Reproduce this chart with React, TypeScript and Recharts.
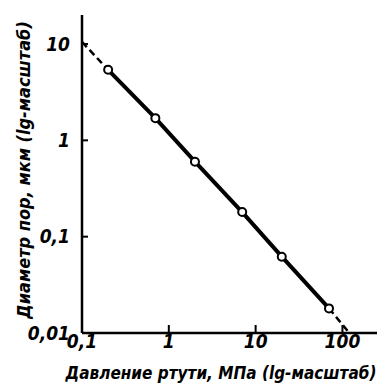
import { LineChart, XAxis, YAxis, Line, Label } from "recharts";

document.body.style.margin = "0";

// давление ртути, МПа  /  диаметр пор, мкм
const pressure = [0.2, 0.7, 2, 7, 20, 70];
const diameter = [5.4, 1.7, 0.6, 0.18, 0.062, 0.018];

// dashed extrapolation at both ends
const extraLowX = [0.1, 0.2];
const extraLowY = [10.5, 5.4];
const extraHighX = [70, 120];
const extraHighY = [0.018, 0.01];

const xTicks = [0.1, 1, 10, 100];
const yTicks = [0.01, 0.1, 1, 10];

const xTitle = "Давление ртути, МПа (lg-масштаб)";
const yTitle = "Диаметр пор, мкм (lg-масштаб)";

const FONT = '"DejaVu Sans Condensed", "DejaVu Sans", sans-serif';

const zip = (xs: number[], ys: number[]) => xs.map((x, i) => ({ x, y: ys[i] }));

const mainData = zip(pressure, diameter);
const lowData = zip(extraLowX, extraLowY);
const highData = zip(extraHighX, extraHighY);

const fmt = (v: number) => String(v).replace(".", ",");

function XTitle(props: any) {
  const vb = props.viewBox;
  return (
    <text
      x={vb.x + 139}
      y={vb.y + 46}
      textAnchor="middle"
      fontFamily={FONT}
      fontStyle="italic"
      fontWeight={600}
      fontSize={17}
      fill="#000"
    >
      {xTitle}
    </text>
  );
}

function YTitle(props: any) {
  const vb = props.viewBox;
  const cx = 30;
  const cy = vb.y + vb.height / 2 - 4;
  return (
    <text
      x={cx}
      y={cy}
      transform={`rotate(-90 ${cx} ${cy})`}
      textAnchor="middle"
      fontFamily={FONT}
      fontStyle="italic"
      fontWeight={600}
      fontSize={18}
      fill="#000"
    >
      {yTitle}
    </text>
  );
}

const tickStyle = { fontSize: 19, fill: "#000", fontFamily: FONT, fontStyle: "italic", fontWeight: 600 };

export default function App() {
  return (
    <LineChart width={390} height={389} margin={{ top: 15, right: 13, left: 0, bottom: 0 }}>
      <XAxis
        type="number"
        dataKey="x"
        scale="log"
        domain={[0.1, 250]}
        ticks={xTicks}
        allowDataOverflow
        tickFormatter={fmt}
        height={56}
        axisLine={{ stroke: "#000", strokeWidth: 2.5 }}
        tickLine={{ stroke: "#000", strokeWidth: 2 }}
        tickSize={-8}
        tickMargin={10}
        tick={tickStyle}
      >
        <Label content={XTitle} />
      </XAxis>
      <YAxis
        type="number"
        dataKey="y"
        scale="log"
        domain={[0.01, 20]}
        ticks={yTicks}
        allowDataOverflow
        tickFormatter={fmt}
        width={82}
        axisLine={{ stroke: "#000", strokeWidth: 2.5 }}
        tickLine={{ stroke: "#000", strokeWidth: 2 }}
        tickSize={-6}
        tickMargin={18}
        tick={tickStyle}
      >
        <Label content={YTitle} />
      </YAxis>
      <Line
        data={lowData}
        dataKey="y"
        stroke="#000"
        strokeWidth={2.5}
        strokeDasharray="7 4"
        dot={false}
        isAnimationActive={false}
      />
      <Line
        data={highData}
        dataKey="y"
        stroke="#000"
        strokeWidth={2.5}
        strokeDasharray="7 4"
        dot={false}
        isAnimationActive={false}
      />
      <Line
        data={mainData}
        dataKey="y"
        stroke="#000"
        strokeWidth={4}
        dot={{ r: 4, fill: "#fff", stroke: "#000", strokeWidth: 2 }}
        activeDot={false}
        isAnimationActive={false}
      />
    </LineChart>
  );
}
